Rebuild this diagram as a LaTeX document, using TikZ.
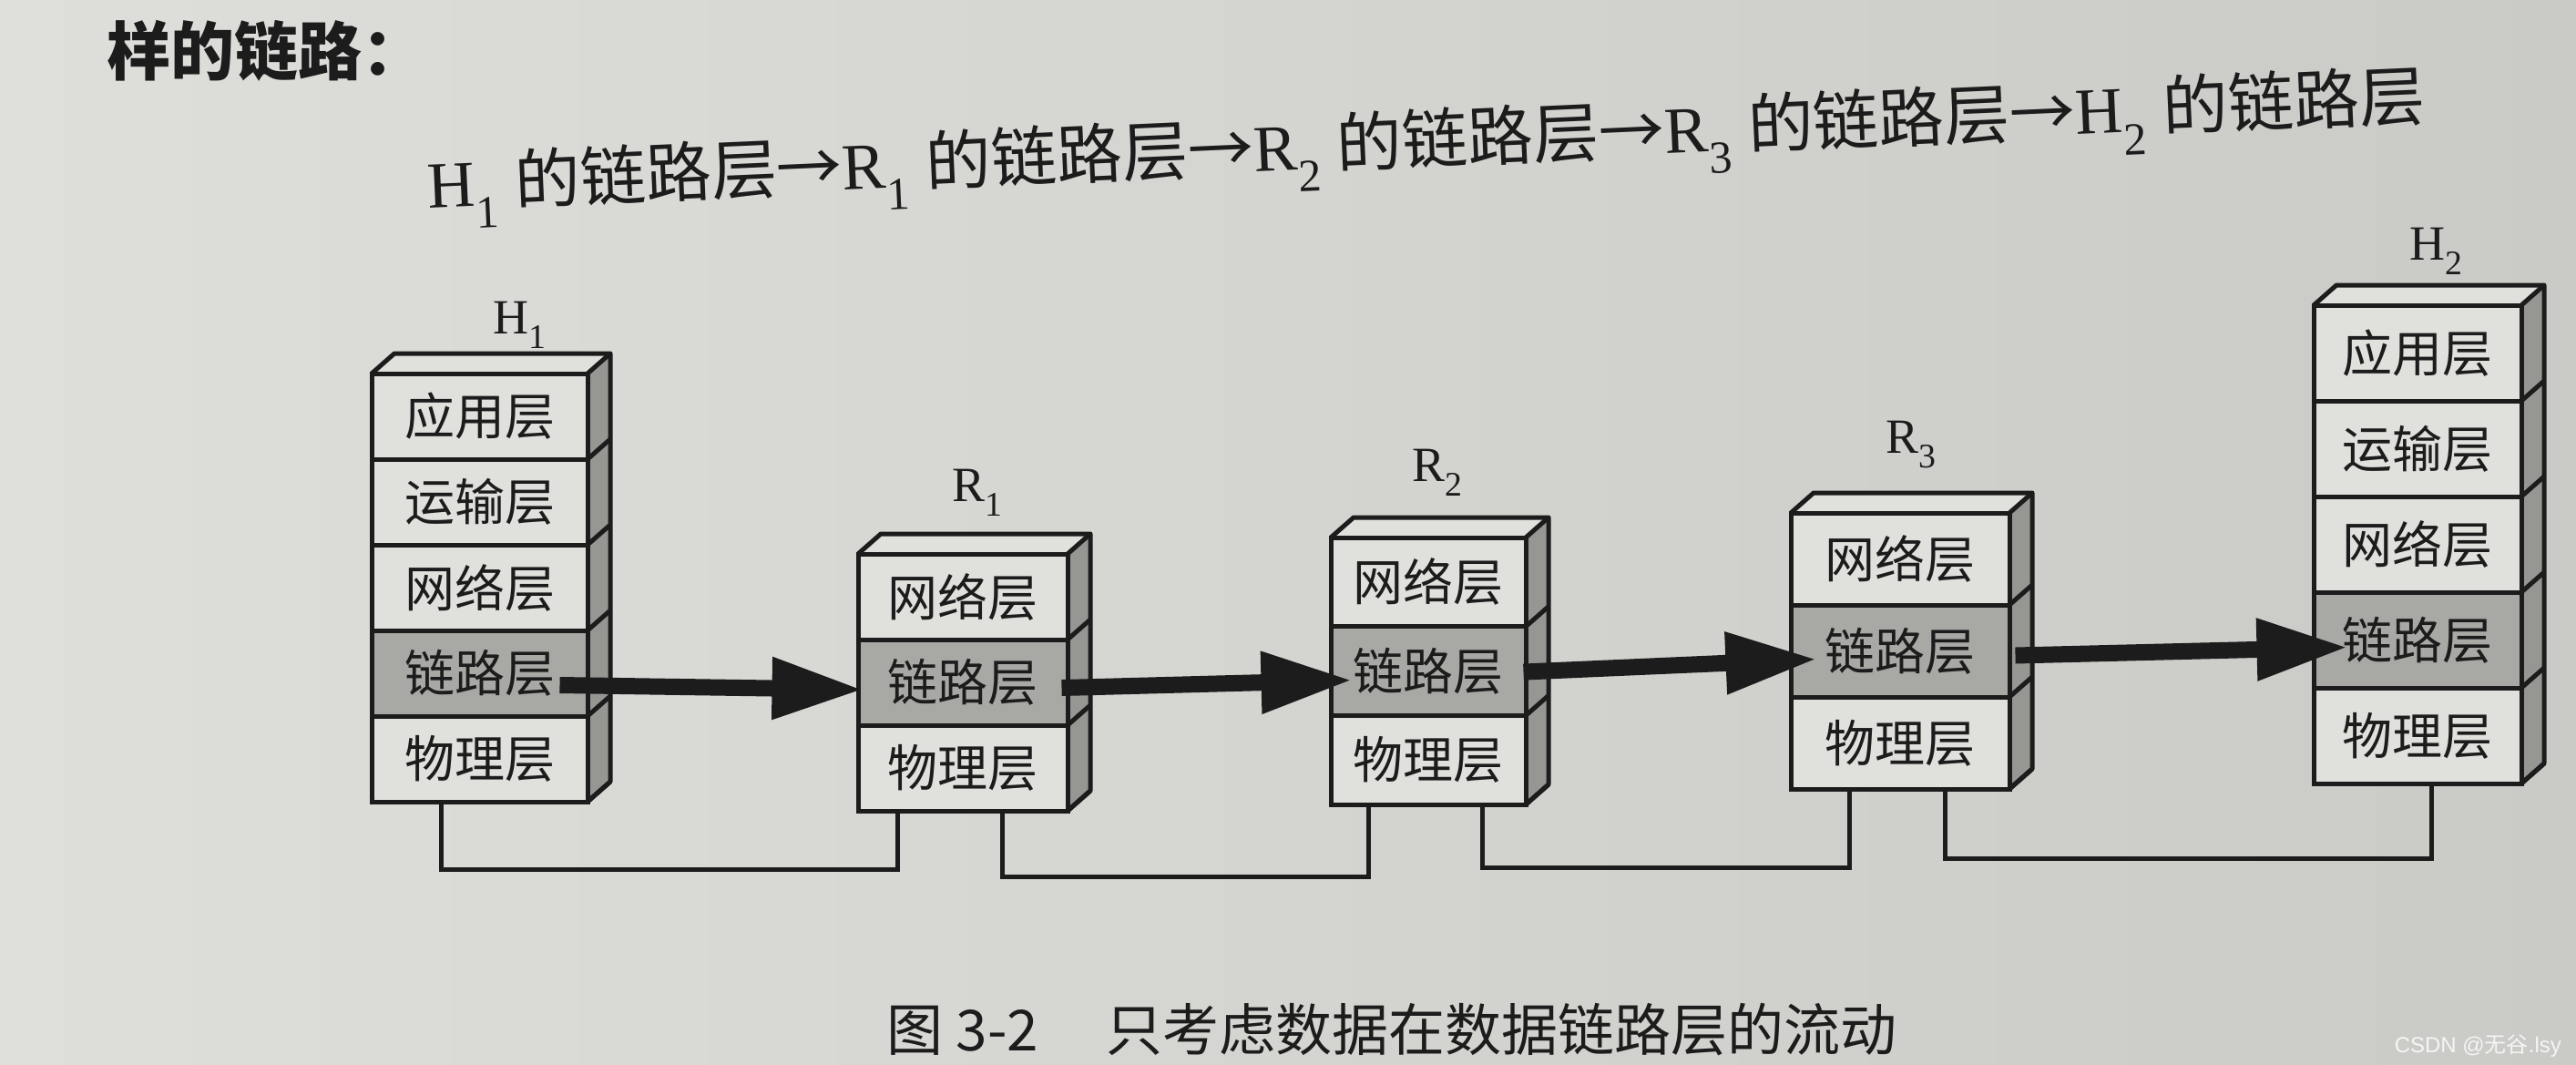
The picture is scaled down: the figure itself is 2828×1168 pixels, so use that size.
\documentclass[tikz,border=0pt]{standalone}
\usepackage{fontspec}
\setmainfont{Liberation Serif}
\newfontfamily\cjk{Noto Sans CJK SC}
\newfontfamily\wmfont{Liberation Sans}
\usetikzlibrary{arrows.meta,calc}
\definecolor{paperL}{RGB}{222,222,219}
\definecolor{paperR}{RGB}{202,202,199}
\definecolor{face}{RGB}{224,224,221}
\definecolor{linkfill}{RGB}{168,168,165}
\definecolor{sidefill}{RGB}{150,150,147}
\definecolor{ink}{RGB}{28,28,28}
\tikzset{
  layerbox/.style={draw=ink, line width=5pt, inner sep=0pt, text=ink,
    font=\cjk\fontsize{55}{60}\selectfont},
  boxline/.style={draw=ink, line width=5pt, line join=round},
  boxname/.style={text=ink, font=\fontsize{54}{60}\selectfont},
  flowarrow/.style={draw=ink, line width=18pt, -{Triangle[length=100pt,width=64pt]}},
  cable/.style={draw=ink, line width=5.5pt},
  pagetext/.style={text=ink, inner sep=0pt}
}
% #1 prefix, #2 left, #3 top, #4 width, #5 layer height, #6 number of layers, #7 link index, #8 labels
\newcommand\layerstack[8]{%
  \fill[face] (#2,#3) -- ++(25,-22) -- ({#2+#4+25},{#3-22}) -- ({#2+#4},#3) -- cycle;
  \fill[sidefill] ({#2+#4},#3) -- ++(25,-22) -- ({#2+#4+25},{#3+#6*#5-22}) -- ({#2+#4},{#3+#6*#5}) -- cycle;
  \foreach \lab [count=\i] in {#8} {
    \ifnum\i=#7\relax\def\lfill{linkfill}\else\def\lfill{face}\fi
    \node[layerbox, fill=\lfill, minimum width=#4pt, minimum height=#5pt]
      (#1-\i) at ({#2+#4/2},{#3+(\i-0.5)*#5}) {\lab};
  }
  \draw[boxline] (#2,#3) -- ++(25,-22) -- ({#2+#4+25},{#3-22}) -- ({#2+#4+25},{#3+#6*#5-22}) -- ({#2+#4},{#3+#6*#5});
  \draw[boxline] ({#2+#4},#3) -- ++(25,-22);
  \foreach \j in {1,...,#6} {
    \draw[boxline] ({#2+#4},{#3+\j*#5}) -- ++(25,-22);
  }
}
\begin{document}
\begin{tikzpicture}[x=1pt,y=-1pt]
\useasboundingbox (0,0) rectangle (2828,1168);
\shade[left color=paperL, right color=paperR] (0,0) rectangle (2828,1168);

% page text
\node[pagetext, anchor=west, font=\cjk\bfseries\fontsize{70}{74}\selectfont] (intro) at (117,56) {样的链路：};
\node[pagetext, rotate=2.55, font=\fontsize{72}{76}\selectfont] (flowline) at (1566,162)
  {H\textsubscript{1} {\cjk 的链路层→}R\textsubscript{1} {\cjk 的链路层→}R\textsubscript{2} {\cjk 的链路层→}R\textsubscript{3} {\cjk 的链路层→}H\textsubscript{2} {\cjk 的链路层}};

% stacks
\layerstack{h1}{408}{410}{237}{94}{5}{4}{应用层,运输层,网络层,链路层,物理层}
\layerstack{r1}{942}{608}{230}{94}{3}{2}{网络层,链路层,物理层}
\layerstack{r2}{1461}{590}{214}{97.7}{3}{2}{网络层,链路层,物理层}
\layerstack{r3}{1966}{563}{240}{101}{3}{2}{网络层,链路层,物理层}
\layerstack{h2}{2540}{335}{228}{105}{5}{4}{应用层,运输层,网络层,链路层,物理层}

% names
\node[boxname] (h1name) at (571,357) {H\textsubscript{1}};
\node[boxname] (r1name) at (1073,541) {R\textsubscript{1}};
\node[boxname] (r2name) at (1578,519) {R\textsubscript{2}};
\node[boxname] (r3name) at (2098,488) {R\textsubscript{3}};
\node[boxname] (h2name) at (2675,276) {H\textsubscript{2}};

% physical cables
\draw[cable] ($(h1-5.south west)+(79,0)$) -- ++(0,72) -| ($(r1-3.south west)+(46,0)$);
\draw[cable] ($(r1-3.south west)+(161,0)$) -- ++(0,70) -| ($(r2-3.south west)+(44,0)$);
\draw[cable] ($(r2-3.south west)+(169,0)$) -- ++(0,67) -| ($(r3-3.south west)+(67,0)$);
\draw[cable] ($(r3-3.south west)+(172,0)$) -- ++(0,74) -| ($(h2-5.south west)+(132,0)$);

% data link flow arrows
\draw[flowarrow] ($(h1-4.east)+(-33,13)$) -- ($(r1-2.west)+(8,8)$);
\draw[flowarrow] ($(r1-2.east)+(-9,6)$) -- ($(r2-2.west)+(26,10)$);
\draw[flowarrow] ($(r2-2.east)+(-5,1)$) -- ($(r3-2.west)+(31,9)$);
\draw[flowarrow] ($(r3-2.east)+(4,5)$) -- ($(h2-4.west)+(40,8)$);

% caption
\node[pagetext, font=\cjk\fontsize{62}{66}\selectfont] (caption) at (1528,1130) {图 3-2\hspace{1.2em}只考虑数据在数据链路层的流动};

% watermark
\node[anchor=east, inner sep=0pt, text=white!92!gray, font=\wmfont\fontsize{24}{26}\selectfont] (wm) at (2812,1148) {CSDN @{\cjk 无谷}.lsy};
\end{tikzpicture}
\end{document}
